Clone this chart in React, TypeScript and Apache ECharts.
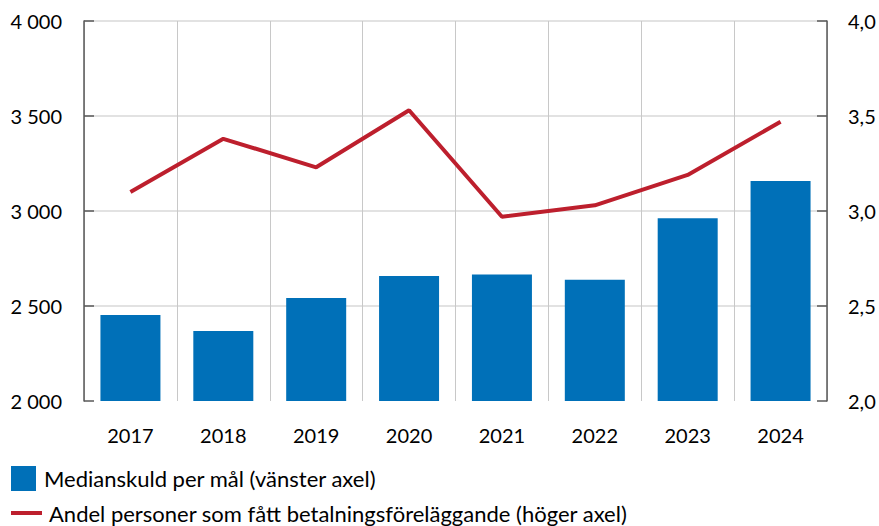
import React, { useEffect, useRef } from "react";
import * as echarts from "echarts";

const years = ["2017", "2018", "2019", "2020", "2021", "2022", "2023", "2024"];
const medianDebt = [2453, 2368, 2542, 2658, 2666, 2638, 2962, 3158];
const sharePersons = [3.1, 3.38, 3.23, 3.53, 2.97, 3.03, 3.19, 3.47];
const barName = "Medianskuld per mål (vänster axel)";
const lineName = "Andel personer som fått betalningsföreläggande (höger axel)";

const FONT = "Lato";

export default function App() {
  const ref = useRef<HTMLDivElement>(null);
  useEffect(() => {
    if (!ref.current) return;
    const chart = echarts.init(ref.current, undefined, { renderer: "svg" });
    const axisColor = "#595959";
    chart.setOption({
      animation: false,
      textStyle: { fontFamily: FONT },
      grid: { left: 84, right: 52, top: 21, bottom: 125, containLabel: false },
      legend: [
        {
          data: [{ name: barName, icon: "rect" }],
          left: 11,
          top: 466,
          padding: 0,
          itemWidth: 25,
          itemHeight: 25,
          selectedMode: false,
          textStyle: { fontFamily: FONT, fontSize: 22, color: "#000", padding: [0, 0, 0, 3], lineHeight: 22 },
        },
        {
          data: [{ name: lineName, icon: "rect" }],
          left: 11,
          top: 502,
          padding: 0,
          itemWidth: 31,
          itemHeight: 4,
          selectedMode: false,
          textStyle: { fontFamily: FONT, fontSize: 22, color: "#000", padding: [0, 0, 0, 2], lineHeight: 20 },
        },
      ],
      xAxis: {
        type: "category",
        data: years,
        boundaryGap: true,
        axisLine: { show: false },
        axisTick: { show: false },
        axisLabel: { fontFamily: FONT, fontSize: 20, color: "#000", margin: 24 },
        splitLine: { show: true, lineStyle: { color: "#c8c8c8", width: 1 } },
      },
      yAxis: [
        {
          type: "value",
          min: 2000,
          max: 4000,
          interval: 500,
          position: "left",
          axisLine: { show: true, lineStyle: { color: axisColor, width: 1.5 } },
          axisTick: { show: true, inside: true, length: 10, lineStyle: { color: axisColor, width: 1.5 } },
          axisLabel: {
            fontFamily: FONT,
            fontSize: 20,
            color: "#000",
            margin: 22,
            formatter: (v: number) => String(v).replace(/\B(?=(\d{3})+(?!\d))/g, " "),
          },
          splitLine: { show: true, showMinLine: false, lineStyle: { color: "#d9d9d9", width: 1.5 } },
        },
        {
          type: "value",
          min: 2,
          max: 4,
          interval: 0.5,
          position: "right",
          axisLine: { show: true, lineStyle: { color: axisColor, width: 1.5 } },
          axisTick: { show: true, inside: true, length: 10, lineStyle: { color: axisColor, width: 1.5 } },
          axisLabel: {
            fontFamily: FONT,
            fontSize: 20,
            color: "#000",
            margin: 21,
            formatter: (v: number) => v.toFixed(1).replace(".", ","),
          },
          splitLine: { show: false },
        },
      ],
      series: [
        {
          name: barName,
          type: "bar",
          data: medianDebt,
          barWidth: 60,
          itemStyle: { color: "#0070b8" },
          z: 2,
        },
        {
          name: lineName,
          type: "line",
          yAxisIndex: 1,
          data: sharePersons,
          symbol: "none",
          lineStyle: { color: "#bd1f2d", width: 4 },
          itemStyle: { color: "#bd1f2d" },
          z: 3,
        },
      ],
    });
    return () => chart.dispose();
  }, []);
  return <div ref={ref} style={{ width: 879, height: 526, position: "absolute", left: 0, top: 0 }} />;
}
